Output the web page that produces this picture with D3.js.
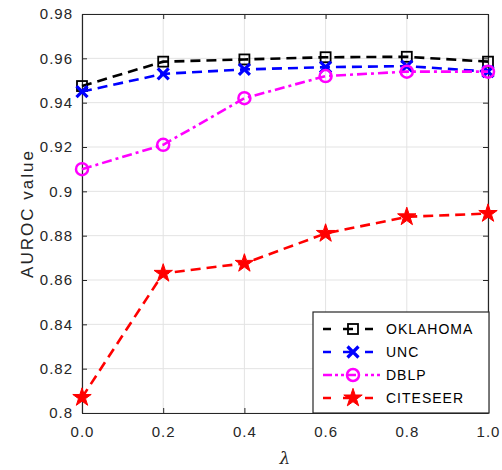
<!DOCTYPE html>
<html>
<head>
<meta charset="utf-8">
<script src="https://d3js.org/d3.v7.min.js"></script>
<style>
  body { margin: 0; background: #fff; font-family: "Liberation Sans", Arial, sans-serif; }
</style>
</head>
<body>
<div id="chart"></div>
<script>
const lambdas = [0.0, 0.2, 0.4, 0.6, 0.8, 1.0];
const oklahoma = [0.9475, 0.9585, 0.9595, 0.9605, 0.9607, 0.9585];
const unc = [0.945, 0.953, 0.955, 0.956, 0.9565, 0.954];
const dblp = [0.910, 0.921, 0.942, 0.952, 0.954, 0.954];
const citeseer = [0.807, 0.863, 0.8675, 0.881, 0.8885, 0.890];
const seriesNames = ['OKLAHOMA', 'UNC', 'DBLP', 'CITESEER'];
const xTicks = [0.0, 0.2, 0.4, 0.6, 0.8, 1.0];
const yTicks = [0.8, 0.82, 0.84, 0.86, 0.88, 0.9, 0.92, 0.94, 0.96, 0.98];

const W = 502, H = 470;
const m = { left: 82, right: 14, top: 14, bottom: 57 };

const svg = d3.select('#chart').append('svg').attr('width', W).attr('height', H);

const x = d3.scaleLinear().domain([0, 1]).range([m.left, W - m.right]);
const y = d3.scaleLinear().domain([0.8, 0.98]).range([H - m.bottom, m.top]);

// grid
svg.append('g').selectAll('line.gx').data(xTicks).join('line')
  .attr('x1', d => x(d)).attr('x2', d => x(d))
  .attr('y1', y(0.8)).attr('y2', y(0.98))
  .attr('stroke', '#e3e3e3').attr('stroke-width', 1);
svg.append('g').selectAll('line.gy').data(yTicks).join('line')
  .attr('y1', d => y(d)).attr('y2', d => y(d))
  .attr('x1', x(0)).attr('x2', x(1))
  .attr('stroke', '#e3e3e3').attr('stroke-width', 1);

// axes (ticks inward, box on)
const fmtX = d3.format('.1f');
const fmtY = d => String(+d.toFixed(2));
const ax = svg.append('g').attr('transform', `translate(0,${y(0.8)})`)
  .call(d3.axisBottom(x).tickValues(xTicks).tickFormat(fmtX).tickSizeInner(-5).tickSizeOuter(0).tickPadding(13));
const ay = svg.append('g').attr('transform', `translate(${x(0)},0)`)
  .call(d3.axisLeft(y).tickValues(yTicks).tickFormat(fmtY).tickSizeInner(-5).tickSizeOuter(0).tickPadding(9));
const at = svg.append('g').attr('transform', `translate(0,${y(0.98)})`)
  .call(d3.axisTop(x).tickValues(xTicks).tickFormat('').tickSizeInner(-5).tickSizeOuter(0));
const ar = svg.append('g').attr('transform', `translate(${x(1)},0)`)
  .call(d3.axisRight(y).tickValues(yTicks).tickFormat('').tickSizeInner(-5).tickSizeOuter(0));
[ax, ay, at, ar].forEach(g => {
  g.selectAll('path').attr('stroke', '#262626').attr('stroke-width', 1.2);
  g.selectAll('line').attr('stroke', '#262626');
  g.selectAll('text').attr('fill', '#262626').style('font-size', '15px')
    .style('letter-spacing', '1px')
    .style('font-family', '"Liberation Sans", Arial, sans-serif');
});

// axis labels
svg.append('text').attr('x', x(0.5)).attr('y', 464).attr('text-anchor', 'middle')
  .style('font-style', 'italic').style('font-size', '17px').attr('fill', '#262626')
  .style('font-family', '"DejaVu Serif", serif').text('λ');
svg.append('text').attr('transform', `translate(33,${y(0.89)}) rotate(-90)`)
  .attr('text-anchor', 'middle').style('font-size', '17px').style('letter-spacing', '2px')
  .attr('fill', '#262626').text('AUROC value');

const series = [
  { name: seriesNames[0], values: oklahoma, color: '#000000', dash: '10,6', marker: 'square' },
  { name: seriesNames[1], values: unc, color: '#0000ff', dash: '10,6', marker: 'x' },
  { name: seriesNames[2], values: dblp, color: '#ff00ff', dash: '10,4,3,4', marker: 'circle' },
  { name: seriesNames[3], values: citeseer, color: '#ff0000', dash: '10,6', marker: 'star' }
];

function drawMarker(g, type, color) {
  if (type === 'square') {
    g.append('rect').attr('x', -5).attr('y', -5).attr('width', 10).attr('height', 10)
      .attr('fill', 'none').attr('stroke', color).attr('stroke-width', 1.8);
  } else if (type === 'x') {
    g.append('path').attr('d', 'M-5.5,-5.5L5.5,5.5M-5.5,5.5L5.5,-5.5').attr('stroke', color).attr('stroke-width', 3.2);
  } else if (type === 'circle') {
    g.append('circle').attr('r', 6).attr('fill', 'none').attr('stroke', color).attr('stroke-width', 2.5);
  } else if (type === 'star') {
    g.append('path').attr('d', d3.symbol().type(d3.symbolStar).size(105)()).attr('fill', color)
      .attr('stroke', color).attr('stroke-width', 1);
  }
}

const line = d3.line().x(d => x(d[0])).y(d => y(d[1]));
series.forEach(s => {
  const pts = lambdas.map((l, i) => [l, s.values[i]]);
  svg.append('path').datum(pts).attr('d', line).attr('fill', 'none')
    .attr('stroke', s.color).attr('stroke-width', 2.6).attr('stroke-dasharray', s.dash);
  pts.forEach(p => {
    const g = svg.append('g').attr('transform', `translate(${x(p[0])},${y(p[1])})`);
    drawMarker(g, s.marker, s.color);
  });
});

// legend
const lg = svg.append('g');
lg.append('rect').attr('x', 313).attr('y', 312).attr('width', 176).attr('height', 101)
  .attr('fill', '#fff').attr('stroke', '#262626').attr('stroke-width', 1.2);
series.forEach((s, i) => {
  const yy = 329 + i * 23;
  lg.append('line').attr('x1', 323).attr('x2', 381).attr('y1', yy).attr('y2', yy)
    .attr('stroke', s.color).attr('stroke-width', 2.6)
    .attr('stroke-dasharray', s.marker === 'circle' ? '9,3,3,3,3,3,9' : '8,12,10,12,8');
  const g = lg.append('g').attr('transform', `translate(353,${yy})`);
  drawMarker(g, s.marker, s.color);
  lg.append('text').attr('x', 386).attr('y', yy + 5).style('font-size', '14px')
    .style('letter-spacing', '1px').attr('fill', '#000').text(s.name);
});
</script>
</body>
</html>
